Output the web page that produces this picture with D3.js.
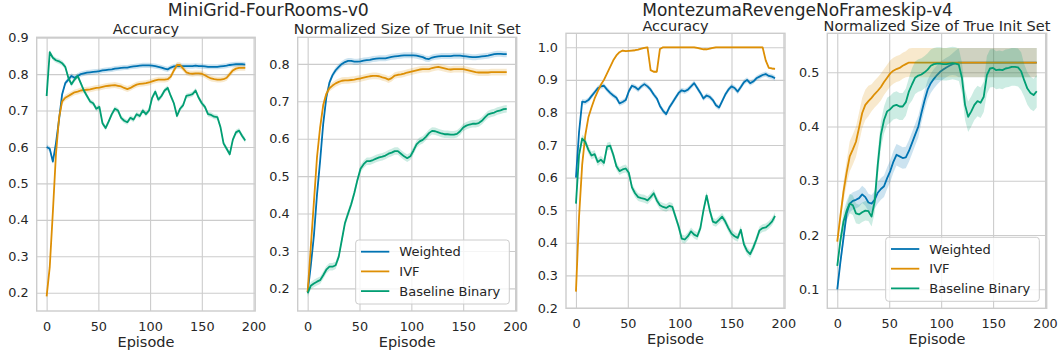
<!DOCTYPE html>
<html>
<head>
<meta charset="utf-8">
<script src="https://cdn.jsdelivr.net/npm/d3@7"></script>
<style>
  body { margin: 0; background: #fff; }
  svg { display: block; }
  text { font-family: "DejaVu Sans", sans-serif; fill: #262626; }
</style>
</head>
<body>
<div id="wrapper"></div>
<script>
// episodes sampled every 3 steps
const episodes = [0,3,6,9,12,15,18,21,24,27,30,33,36,39,42,45,48,51,54,57,60,63,66,69,72,75,78,81,84,87,90,93,96,99,102,105,108,111,114,117,120,123,126,129,132,135,138,141,144,147,150,153,156,159,162,165,168,171,174,177,180,183,186,189,192];

const seriesNames = ['Weighted', 'IVF', 'Baseline Binary'];
const xTicks = [0, 50, 100, 150, 200];

// MiniGrid-FourRooms-v0 : Accuracy
const fourRoomsAccWeighted = [0.600,0.595,0.560,0.610,0.675,0.745,0.775,0.785,0.795,0.790,
  0.795,0.800,0.802,0.804,0.805,0.806,0.807,0.808,0.810,0.811,
  0.812,0.813,0.815,0.816,0.817,0.818,0.818,0.820,0.821,0.822,
  0.823,0.824,0.824,0.824,0.823,0.822,0.820,0.818,0.815,0.813,
  0.818,0.821,0.822,0.822,0.822,0.822,0.822,0.822,0.823,0.822,
  0.822,0.821,0.820,0.820,0.820,0.820,0.821,0.822,0.823,0.825,
  0.826,0.827,0.827,0.827,0.826];
const fourRoomsAccIVF = [0.190,0.270,0.420,0.580,0.680,0.725,0.735,0.740,0.745,0.750,
  0.752,0.755,0.756,0.757,0.758,0.760,0.762,0.763,0.765,0.767,
  0.768,0.769,0.770,0.768,0.766,0.762,0.759,0.762,0.767,0.771,
  0.773,0.774,0.775,0.777,0.780,0.783,0.785,0.785,0.785,0.786,
  0.793,0.810,0.825,0.825,0.815,0.805,0.802,0.801,0.802,0.802,
  0.801,0.797,0.792,0.788,0.786,0.785,0.785,0.786,0.790,0.800,
  0.810,0.815,0.817,0.817,0.817];
const fourRoomsAccBinary = [0.740,0.860,0.845,0.838,0.835,0.830,0.820,0.790,0.772,0.785,
  0.795,0.775,0.755,0.740,0.725,0.720,0.705,0.710,0.665,0.652,
  0.670,0.690,0.705,0.700,0.680,0.672,0.668,0.680,0.675,0.690,
  0.685,0.700,0.690,0.700,0.735,0.752,0.730,0.740,0.755,0.762,
  0.740,0.720,0.685,0.705,0.715,0.740,0.742,0.745,0.755,0.735,
  0.720,0.710,0.690,0.688,0.683,0.682,0.655,0.610,0.595,0.580,
  0.620,0.640,0.645,0.630,0.618];

// MiniGrid-FourRooms-v0 : Normalized Size of True Init Set
const fourRoomsSizeWeighted = [0.190,0.260,0.340,0.450,0.540,0.640,0.710,0.750,0.770,0.783,
  0.792,0.800,0.805,0.808,0.808,0.806,0.806,0.807,0.809,0.810,
  0.811,0.813,0.814,0.815,0.815,0.815,0.817,0.819,0.820,0.821,
  0.822,0.823,0.823,0.823,0.823,0.822,0.820,0.818,0.814,0.813,
  0.817,0.819,0.820,0.821,0.821,0.821,0.821,0.822,0.822,0.822,
  0.821,0.820,0.819,0.818,0.818,0.819,0.820,0.821,0.822,0.824,
  0.826,0.827,0.827,0.826,0.826];
const fourRoomsSizeIVF = [0.190,0.310,0.430,0.550,0.630,0.690,0.720,0.735,0.742,0.748,
  0.752,0.755,0.756,0.756,0.757,0.758,0.760,0.761,0.763,0.765,
  0.767,0.768,0.768,0.767,0.764,0.762,0.758,0.762,0.769,0.771,
  0.772,0.774,0.777,0.779,0.781,0.783,0.785,0.786,0.786,0.786,
  0.789,0.791,0.792,0.790,0.788,0.786,0.785,0.786,0.786,0.786,
  0.786,0.784,0.782,0.780,0.778,0.777,0.777,0.777,0.777,0.778,
  0.778,0.778,0.778,0.778,0.778];
const fourRoomsSizeBinary = [0.187,0.207,0.213,0.218,0.222,0.235,0.250,0.258,0.258,0.262,
  0.285,0.330,0.375,0.400,0.425,0.455,0.490,0.520,0.532,0.540,
  0.540,0.543,0.547,0.550,0.552,0.555,0.560,0.563,0.567,0.567,
  0.560,0.553,0.548,0.553,0.568,0.585,0.593,0.597,0.605,0.615,
  0.621,0.620,0.617,0.614,0.612,0.612,0.611,0.611,0.613,0.620,
  0.630,0.635,0.638,0.640,0.640,0.642,0.648,0.657,0.665,0.668,
  0.670,0.674,0.676,0.679,0.680];

// MontezumaRevengeNoFrameskip-v4 : Accuracy
const montezumaAccWeighted = [0.600,0.740,0.833,0.832,0.838,0.850,0.862,0.874,0.880,0.882,
  0.870,0.860,0.852,0.845,0.828,0.832,0.838,0.865,0.882,0.878,
  0.870,0.880,0.887,0.880,0.870,0.855,0.843,0.820,0.805,0.795,
  0.815,0.830,0.845,0.860,0.868,0.865,0.870,0.880,0.890,0.875,
  0.860,0.843,0.852,0.848,0.838,0.822,0.815,0.835,0.855,0.870,
  0.880,0.875,0.864,0.878,0.893,0.900,0.890,0.895,0.905,0.910,
  0.915,0.918,0.912,0.910,0.905];
const montezumaAccIVF = [0.250,0.480,0.640,0.730,0.785,0.815,0.843,0.865,0.885,0.900,
  0.920,0.940,0.960,0.975,0.985,0.990,0.988,0.989,0.990,0.991,
  0.993,0.996,0.998,1.000,0.930,0.925,0.925,0.995,1.000,1.000,
  1.000,1.000,1.000,1.000,1.000,1.000,1.000,1.000,1.000,0.998,
  0.996,0.994,0.994,0.996,0.998,1.000,1.000,1.000,1.000,1.000,
  1.000,1.000,1.000,1.000,1.000,1.000,1.000,1.000,1.000,1.000,
  1.000,0.960,0.937,0.935,0.934];
const montezumaAccBinary = [0.520,0.670,0.720,0.710,0.685,0.668,0.672,0.648,0.655,0.645,
  0.695,0.698,0.670,0.635,0.620,0.625,0.628,0.615,0.570,0.552,
  0.540,0.537,0.535,0.530,0.540,0.552,0.530,0.515,0.510,0.507,
  0.513,0.510,0.480,0.450,0.413,0.410,0.420,0.435,0.425,0.420,
  0.445,0.500,0.545,0.500,0.465,0.461,0.470,0.480,0.465,0.445,
  0.428,0.420,0.415,0.440,0.395,0.375,0.365,0.385,0.410,0.438,
  0.445,0.447,0.455,0.465,0.482];

// MontezumaRevengeNoFrameskip-v4 : Normalized Size of True Init Set
const montezumaSizeWeighted = [0.100,0.150,0.195,0.240,0.258,0.263,0.265,0.268,0.275,0.270,
  0.260,0.258,0.265,0.278,0.285,0.290,0.305,0.318,0.335,0.348,
  0.345,0.342,0.343,0.355,0.370,0.385,0.400,0.425,0.448,0.468,
  0.480,0.488,0.495,0.501,0.505,0.509,0.512,0.515,0.517,0.518,
  0.518,0.518,0.518,0.518,0.518,0.518,0.518,0.518,0.518,0.518,
  0.518,0.518,0.518,0.518,0.518,0.518,0.518,0.518,0.518,0.518,
  0.518,0.518,0.518,0.518,0.518];
const montezumaSizeIVF = [0.188,0.235,0.280,0.315,0.345,0.358,0.372,0.398,0.425,0.440,
  0.447,0.453,0.460,0.466,0.473,0.482,0.490,0.498,0.503,0.506,
  0.508,0.512,0.515,0.518,0.518,0.518,0.518,0.518,0.518,0.518,
  0.518,0.518,0.518,0.518,0.518,0.518,0.518,0.518,0.518,0.518,
  0.518,0.518,0.518,0.518,0.518,0.518,0.518,0.518,0.518,0.518,
  0.518,0.518,0.518,0.518,0.518,0.518,0.518,0.518,0.518,0.518,
  0.518,0.518,0.518,0.518,0.518];
const montezumaSizeBinary = [0.143,0.190,0.225,0.245,0.258,0.255,0.240,0.238,0.242,0.245,
  0.244,0.234,0.262,0.330,0.385,0.412,0.428,0.432,0.438,0.440,
  0.437,0.437,0.445,0.465,0.478,0.490,0.494,0.496,0.500,0.505,
  0.512,0.515,0.516,0.516,0.515,0.515,0.516,0.517,0.516,0.514,
  0.490,0.440,0.418,0.428,0.440,0.447,0.444,0.455,0.495,0.507,
  0.508,0.504,0.505,0.504,0.507,0.508,0.510,0.510,0.509,0.502,
  0.485,0.470,0.462,0.458,0.465];

// confidence half-widths (Montezuma size panel has wide, varying bands)
const montezumaSizeCiWeighted = [0.008,0.010,0.012,0.014,0.016,0.016,0.016,0.016,0.016,0.016,
  0.016,0.016,0.016,0.020,0.020,0.020,0.020,0.020,0.020,0.020,
  0.020,0.020,0.020,0.020,0.020,0.020,0.020,0.018,0.018,0.018,
  0.018,0.018,0.018,0.018,0.018,0.018,0.018,0.020,0.023,0.027,
  0.027,0.027,0.027,0.027,0.027,0.027,0.027,0.027,0.027,0.027,
  0.027,0.027,0.027,0.027,0.027,0.027,0.027,0.027,0.027,0.027,
  0.027,0.027,0.027,0.027,0.027];
const montezumaSizeCiIVF = [0.006,0.012,0.018,0.022,0.028,0.028,0.028,0.028,0.028,0.028,
  0.028,0.025,0.025,0.025,0.025,0.024,0.024,0.024,0.024,0.024,
  0.024,0.024,0.024,0.026,0.027,0.027,0.027,0.027,0.027,0.027,
  0.027,0.027,0.027,0.027,0.027,0.027,0.027,0.027,0.027,0.027,
  0.027,0.027,0.027,0.027,0.027,0.027,0.027,0.027,0.027,0.027,
  0.027,0.027,0.027,0.027,0.027,0.027,0.027,0.027,0.027,0.027,
  0.027,0.027,0.027,0.027,0.027];
const montezumaSizeCiBinary = [0.008,0.012,0.018,0.018,0.018,0.018,0.018,0.018,0.018,0.018,
  0.018,0.018,0.022,0.025,0.025,0.025,0.025,0.025,0.025,0.025,
  0.025,0.025,0.025,0.025,0.030,0.030,0.030,0.030,0.030,0.030,
  0.030,0.030,0.030,0.030,0.030,0.030,0.030,0.030,0.030,0.030,
  0.028,0.028,0.028,0.028,0.028,0.028,0.028,0.028,0.035,0.035,
  0.035,0.035,0.035,0.035,0.035,0.035,0.035,0.035,0.035,0.035,
  0.030,0.030,0.030,0.030,0.030];

const colors = ['#0173b2', '#de8f05', '#029e73'];

const width = 1058, height = 356;
const svg = d3.select('#wrapper').append('svg')
  .attr('width', width)
  .attr('height', height);
svg.append('rect').attr('width', width).attr('height', height).attr('fill', '#fff');

// matplotlib-like 5% margins around 0..192
const xDomain = [-9.6, 201.6];

const panels = [
  { title: 'Accuracy', left: 36.7, top: 37.3, w: 218.5, h: 273.7, yDomain: [0.1498, 0.901],
    yTicks: [0.2,0.3,0.4,0.5,0.6,0.7,0.8,0.9], legend: false,
    series: [fourRoomsAccWeighted, fourRoomsAccIVF, fourRoomsAccBinary], ci: [0.007, 0.008, 0.007] },
  { title: 'Normalized Size of True Init Set', left: 297.7, top: 37.3, w: 219, h: 273.7, yDomain: [0.1396, 0.8711],
    yTicks: [0.2,0.3,0.4,0.5,0.6,0.7,0.8], legend: true,
    series: [fourRoomsSizeWeighted, fourRoomsSizeIVF, fourRoomsSizeBinary], ci: [0.008, 0.009, 0.01] },
  { title: 'Accuracy', left: 566, top: 33.3, w: 219, h: 275, yDomain: [0.1988, 1.043],
    yTicks: [0.2,0.3,0.4,0.5,0.6,0.7,0.8,0.9,1.0], legend: false,
    series: [montezumaAccWeighted, montezumaAccIVF, montezumaAccBinary], ci: [0.008, 0.003, 0.012] },
  { title: 'Normalized Size of True Init Set', left: 827.3, top: 33.3, w: 219.4, h: 275, yDomain: [0.065, 0.5719],
    yTicks: [0.1,0.2,0.3,0.4,0.5], legend: true,
    series: [montezumaSizeWeighted, montezumaSizeIVF, montezumaSizeBinary],
    ci: [montezumaSizeCiWeighted, montezumaSizeCiIVF, montezumaSizeCiBinary] },
];

panels.forEach((p, pi) => {
  const xScale = d3.scaleLinear().domain(xDomain).range([0, p.w]);
  const yScale = d3.scaleLinear().domain(p.yDomain).range([p.h, 0]);
  const g = svg.append('g').attr('transform', `translate(${p.left},${p.top})`);

  // grid + tick labels via axes
  const xAxis = g.append('g')
    .attr('transform', `translate(0,${p.h})`)
    .call(d3.axisBottom(xScale).tickValues(xTicks).tickSize(-p.h).tickPadding(10.8).tickFormat(d3.format('d')));
  const yAxis = g.append('g')
    .call(d3.axisLeft(yScale).tickValues(p.yTicks).tickSize(-p.w).tickPadding(8).tickFormat(d3.format('.1f')));
  [xAxis, yAxis].forEach(ax => {
    ax.select('.domain').remove();
    ax.selectAll('line').attr('stroke', '#cccccc').attr('stroke-width', 1.1);
    ax.selectAll('text').attr('fill', '#262626').style('font-size', '12.8px');
  });

  const clipId = 'clip' + pi;
  g.append('clipPath').attr('id', clipId).append('rect').attr('width', p.w).attr('height', p.h);
  const plot = g.append('g').attr('clip-path', `url(#${clipId})`);

  p.series.forEach((vals, si) => {
    const ci = p.ci[si];
    const ciAt = i => Array.isArray(ci) ? ci[i] : ci;
    const line = d3.line()
      .x((d, i) => xScale(episodes[i]))
      .y(d => yScale(d));
    const area = d3.area()
      .x((d, i) => xScale(episodes[i]))
      .y0((d, i) => yScale(d - ciAt(i)))
      .y1((d, i) => yScale(d + ciAt(i)));
    plot.append('path')
      .attr('d', line(vals))
      .attr('fill', 'none')
      .attr('stroke', colors[si])
      .attr('stroke-width', 1.8)
      .attr('stroke-linejoin', 'round');
    plot.append('path')
      .attr('d', area(vals))
      .attr('fill', colors[si])
      .attr('fill-opacity', 0.2);
  });

  // frame
  g.append('rect')
    .attr('width', p.w).attr('height', p.h)
    .attr('fill', 'none').attr('stroke', '#cccccc').attr('stroke-width', 1.4);

  // panel title
  g.append('text')
    .attr('x', p.w / 2).attr('y', pi < 2 ? -3 : -2)
    .attr('text-anchor', 'middle')
    .style('font-size', '14.5px')
    .text(p.title);

  // x label
  g.append('text')
    .attr('x', p.w / 2).attr('y', p.h + 35.8)
    .attr('text-anchor', 'middle')
    .style('font-size', '14.5px')
    .text('Episode');

  if (p.legend) {
    const lw = 153.6, lh = 64;
    const lg = g.append('g').attr('transform', `translate(${p.w - 7.4 - lw},${p.h - 7 - lh})`);
    lg.append('rect')
      .attr('width', lw).attr('height', lh).attr('rx', 3)
      .attr('fill', '#fff').attr('fill-opacity', 0.8)
      .attr('stroke', '#cccccc').attr('stroke-width', 1);
    seriesNames.forEach((name, i) => {
      const yy = 11.7 + i * 19.7;
      lg.append('line')
        .attr('x1', 5.3).attr('x2', 33.6).attr('y1', yy).attr('y2', yy)
        .attr('stroke', colors[i]).attr('stroke-width', 1.8);
      lg.append('text')
        .attr('x', 43.6).attr('y', yy).attr('dy', '0.35em')
        .style('font-size', '13px')
        .text(name);
    });
  }
});

// figure super-titles
svg.append('text').attr('x', 268.3).attr('y', 16).attr('text-anchor', 'middle')
  .style('font-size', '17.3px').text('MiniGrid-FourRooms-v0');
svg.append('text').attr('x', 797.5).attr('y', 16.4).attr('text-anchor', 'middle')
  .style('font-size', '17px').text('MontezumaRevengeNoFrameskip-v4');
</script>
</body>
</html>
